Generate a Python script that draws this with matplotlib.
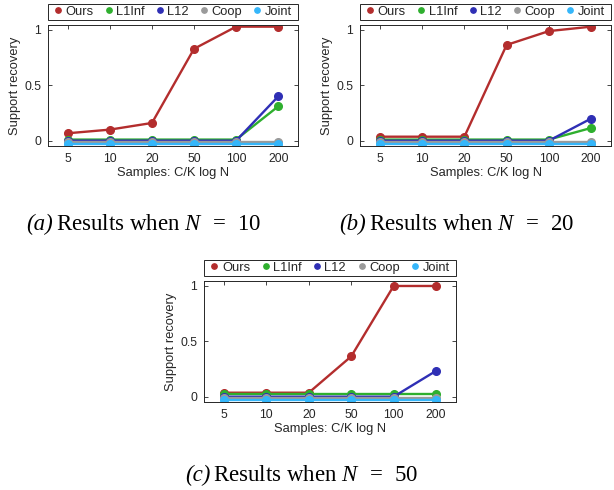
import matplotlib
matplotlib.use("Agg")
import matplotlib.pyplot as plt
from matplotlib.patches import Rectangle
import numpy as np

plt.rcParams['font.family'] = ['Liberation Sans', 'DejaVu Sans']
plt.rcParams['mathtext.fontset'] = 'custom'
plt.rcParams['mathtext.rm'] = 'Liberation Serif'
plt.rcParams['mathtext.it'] = 'Liberation Serif:italic'

x_labels = ["5", "10", "20", "50", "100", "200"]
methods = ["Ours", "L1Inf", "L12", "Coop", "Joint"]
colors = ["#B32D2D", "#2EAF2E", "#2F2FB5", "#9A9A9A", "#35B6FA"]

# panel (a) N = 10
a_ours = [0.067, 0.10, 0.16, 0.83, 1.03, 1.03]
a_l1inf = [0.01, 0.01, 0.01, 0.01, 0.01, 0.31]
a_l12 = [0.0, 0.0, 0.0, 0.0, 0.0, 0.40]
a_coop = [-0.015, -0.015, -0.015, -0.015, -0.015, -0.015]
a_joint = [-0.03, -0.03, -0.03, -0.03, -0.03, -0.03]

# panel (b) N = 20
b_ours = [0.036, 0.036, 0.036, 0.865, 0.99, 1.03]
b_l1inf = [0.01, 0.01, 0.01, 0.01, 0.01, 0.115]
b_l12 = [0.0, 0.0, 0.0, 0.0, 0.0, 0.20]
b_coop = [-0.015, -0.015, -0.015, -0.015, -0.015, -0.015]
b_joint = [-0.03, -0.03, -0.03, -0.03, -0.03, -0.03]

# panel (c) N = 50
c_ours = [0.036, 0.036, 0.036, 0.364, 1.0, 1.0]
c_l1inf = [0.02, 0.02, 0.02, 0.02, 0.02, 0.02]
c_l12 = [0.0, 0.0, 0.0, 0.0, 0.0, 0.233]
c_coop = [-0.015, -0.015, -0.015, -0.015, -0.015, -0.015]
c_joint = [-0.03, -0.03, -0.03, -0.03, -0.03, -0.03]

cap_tags = ["(a)", "(b)", "(c)"]
cap_texts = [r"Results when $N\;\;=\;\;10$",
             r"Results when $N\;\;=\;\;20$",
             r"Results when $N\;\;=\;\;50$"]

W, H = 614, 490
fig = plt.figure(figsize=(W / 100, H / 100), dpi=100)
renderer = fig.canvas.get_renderer()

def rect(x0, y0, x1, y1):
    return [x0 / W, 1 - y1 / H, (x1 - x0) / W, (y1 - y0) / H]

panels = [
    (rect(48, 25, 298, 146), [a_ours, a_l1inf, a_l12, a_coop, a_joint], (26, 230)),
    (rect(360, 25, 611, 146), [b_ours, b_l1inf, b_l12, b_coop, b_joint], (339, 230)),
    (rect(204, 281, 456, 402), [c_ours, c_l1inf, c_l12, c_coop, c_joint], (185, 481)),
]

axc = '#262626'
for i, (pos, series, cap) in enumerate(panels):
    ax = fig.add_axes(pos)
    xs = np.arange(len(x_labels))
    for name, vals, col in zip(methods, series, colors):
        ax.plot(xs, vals, '-o', color=col, lw=1.7, ms=5.5, label=name)
    ax.set_xlim(-0.47, 5.47)
    ax.set_ylim(-0.048, 1.045)
    ax.set_xticks(xs)
    ax.set_xticklabels(x_labels)
    ax.set_yticks([0, 0.5, 1])
    ax.set_yticklabels(["0", "0.5", "1"])
    ax.tick_params(direction='in', top=True, right=True, length=3, width=0.6,
                   labelsize=8.8, colors=axc, pad=5)
    for s in ax.spines.values():
        s.set_color(axc)
        s.set_linewidth(0.7)
    ax.set_xlabel("Samples: C/K log N", fontsize=9.3, color=axc, labelpad=1.5)
    ax.set_ylabel("Support recovery", fontsize=9.3, color=axc, labelpad=2)

    # legend frame box above the axes
    ax.add_patch(Rectangle((0, 1.041), 1, 0.133, transform=ax.transAxes, fill=False,
                           edgecolor=axc, lw=0.7, clip_on=False))
    leg = ax.legend(loc='center', bbox_to_anchor=(0.03, 1.041, 0.945, 0.133), mode='expand',
                    ncol=5, fontsize=9.3, frameon=False,
                    handlelength=0.45, handletextpad=0.35, columnspacing=0.5,
                    borderpad=0, borderaxespad=0, markerscale=0.7)
    for h in leg.legend_handles:
        h.set_linestyle('none')
    for t in leg.get_texts():
        t.set_color(axc)

    # caption: italic tag followed by upright text
    tx, ty = cap[0] / W, 1 - cap[1] / H
    t1 = fig.text(tx, ty, cap_tags[i], style='italic', fontsize=16.5,
                  family='Liberation Serif', va='baseline', ha='left')
    w = t1.get_window_extent(renderer).width
    fig.text(tx + (w + 3) / W, ty, cap_texts[i], fontsize=16.5,
             family='Liberation Serif', va='baseline', ha='left')

fig.savefig("out.png", dpi=100)
